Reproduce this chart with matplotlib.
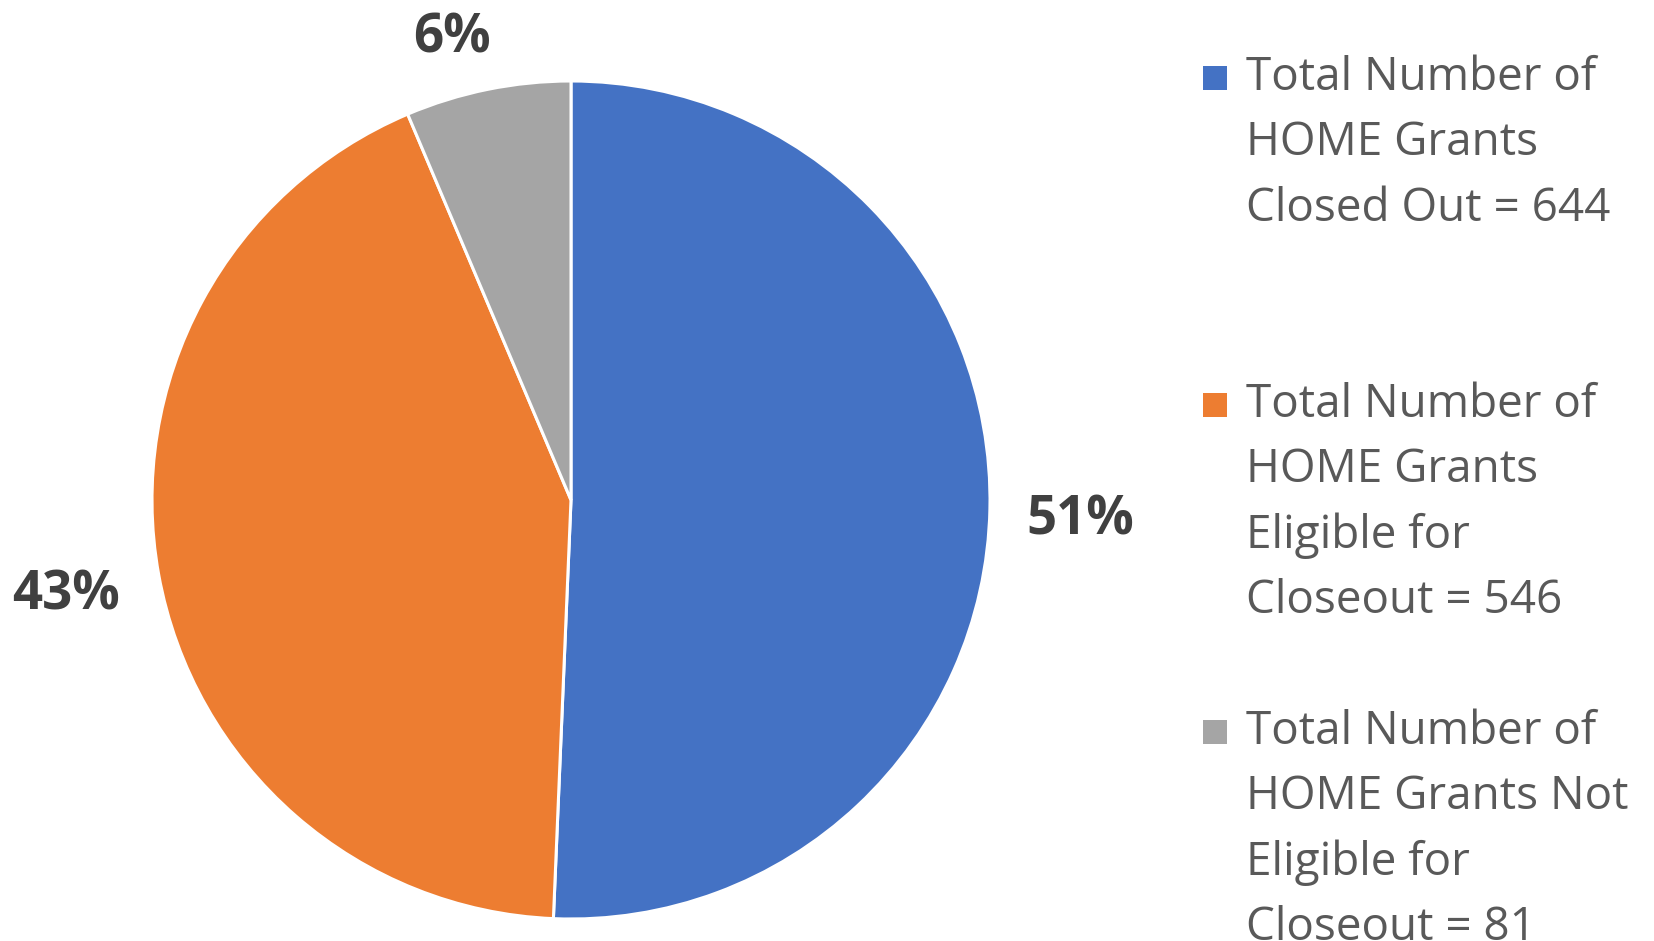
import matplotlib
matplotlib.use("Agg")
import matplotlib.pyplot as plt
from matplotlib.patches import Rectangle

labels = ["Total Number of\nHOME Grants\nClosed Out = 644",
          "Total Number of\nHOME Grants\nEligible for\nCloseout = 546",
          "Total Number of\nHOME Grants Not\nEligible for\nCloseout = 81"]
values = [644, 546, 81]
colors = ["#4472C4", "#ED7D31", "#A5A5A5"]

W, H = 1654, 941
fig = plt.figure(figsize=(W / 100, H / 100), dpi=100)
cx, cy, r = 571, 500, 419
ax = fig.add_axes([(cx - r) / W, (H - cy - r) / H, 2 * r / W, 2 * r / H])
ax.set_xlim(-1, 1)
ax.set_ylim(-1, 1)
ax.set_aspect("equal")
ax.axis("off")

wedges, texts, autotexts = ax.pie(
    values, colors=colors, startangle=90, counterclock=False, radius=1,
    autopct=lambda p: f"{p:.0f}%", pctdistance=1.19,
    wedgeprops=dict(edgecolor="white", linewidth=2.2),
    textprops=dict(fontsize=38, fontweight="bold", color="#404040", family="Open Sans"))
ax.set_xlim(-1, 1)
ax.set_ylim(-1, 1)

# data-label placement (Excel best-fit positions)
label_pos = [(1.215, -0.048), (-1.205, -0.228), (-0.285, 1.102)]
for t, (px, py) in zip(autotexts, label_pos):
    t.set_position((px, py))
    t.set_ha("center")
    t.set_va("center")
    t.set_clip_on(False)

# legend (manually laid out like Excel)
x_sq, x_txt = 1203, 1246
y0, entry_step, line_step = 78, 327, 65.4
for i, (lab, col) in enumerate(zip(labels, colors)):
    ytop = y0 + i * entry_step
    fig.patches.append(Rectangle(((x_sq) / W, (H - ytop - 12) / H), 24 / W, 24 / H,
                                 transform=fig.transFigure, facecolor=col, edgecolor="none"))
    for j, line in enumerate(lab.split("\n")):
        fig.text(x_txt / W, (H - (ytop + j * line_step)) / H, line, ha="left", va="center",
                 fontsize=33, color="#595959", family="Open Sans")

fig.savefig("out.png", dpi=100, facecolor="white")
